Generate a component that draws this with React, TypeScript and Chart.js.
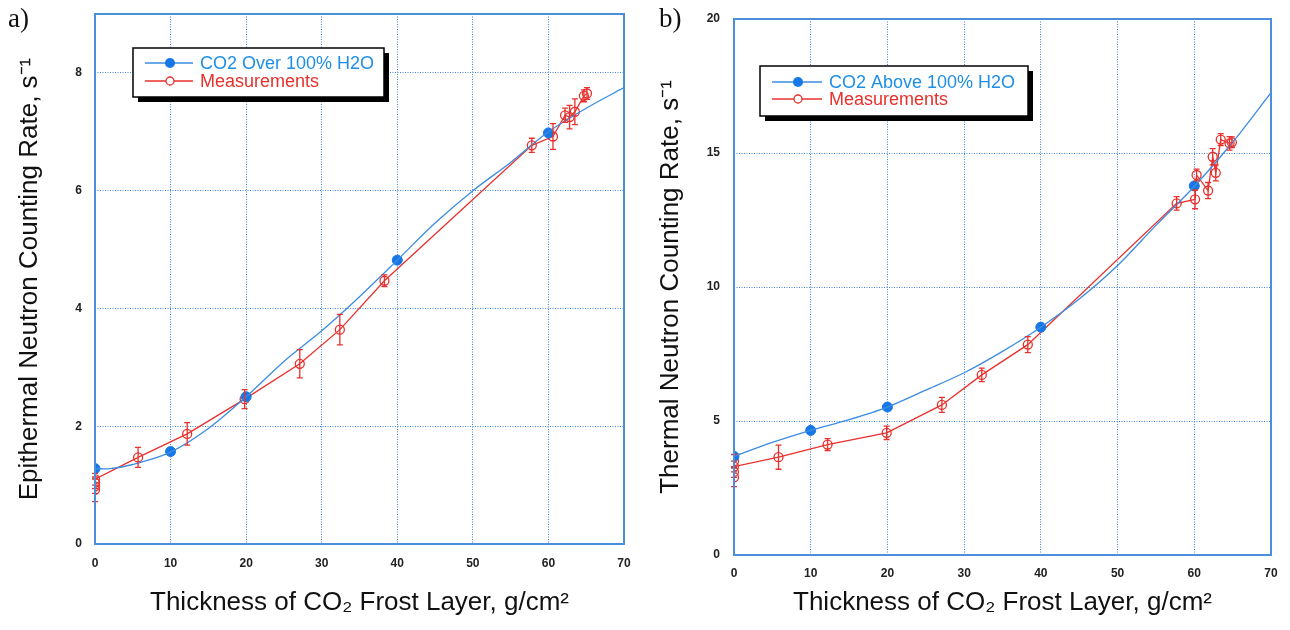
import React, { useEffect, useRef } from "react";
import { Chart, registerables } from "chart.js";
Chart.register(...registerables);

// ---------- shared ----------
const xTickValues = [0, 10, 20, 30, 40, 50, 60, 70];
const measLabel = "Measurements";
const xTitle = "Thickness of CO\u2082 Frost Layer, g/cm\u00B2";

// ---------- panel a (epithermal) ----------
const aYTickValues = [0, 2, 4, 6, 8];
const aSimLabel = "CO2 Over 100% H2O";
const aYTitle = "Epithermal Neutron Counting Rate, s\u207B\u00B9";
const aCurveX = [0, 2, 5, 10, 15, 20, 25, 30, 35, 40, 45, 50, 55, 60, 65, 70];
const aCurveY = [1.28, 1.28, 1.35, 1.56, 1.96, 2.5, 3.1, 3.62, 4.2, 4.82, 5.45, 6.0, 6.48, 7.0, 7.4, 7.75];
const aSimX = [0, 10, 20, 40, 60];
const aSimY = [1.28, 1.57, 2.5, 4.82, 6.98];
const aMeasX = [0, 0, 0, 0, 5.7, 12.2, 19.8, 27.1, 32.4, 38.3, 57.8, 60.6, 62.2, 62.8, 63.5, 64.7, 65.1];
const aMeasY = [0.92, 0.98, 1.04, 1.1, 1.47, 1.87, 2.46, 3.06, 3.64, 4.47, 6.77, 6.92, 7.28, 7.25, 7.34, 7.61, 7.65];
const aMeasErr = [0.2, 0.12, 0.1, 0.1, 0.17, 0.19, 0.16, 0.24, 0.26, 0.1, 0.12, 0.22, 0.12, 0.2, 0.22, 0.1, 0.1];

// ---------- panel b (thermal) ----------
const bYTickValues = [0, 5, 10, 15, 20];
const bSimLabel = "CO2 Above 100% H2O";
const bYTitle = "Thermal Neutron Counting Rate, s\u207B\u00B9";
const bCurveX = [0, 5, 10, 15, 20, 25, 30, 35, 40, 45, 50, 55, 60, 65, 70];
const bCurveY = [3.68, 4.2, 4.65, 5.05, 5.52, 6.15, 6.8, 7.6, 8.5, 9.55, 10.8, 12.3, 13.75, 15.4, 17.25];
const bSimX = [0, 10, 20, 40, 60];
const bSimY = [3.68, 4.65, 5.52, 8.5, 13.77];
const bMeasX = [0, 0, 0, 0, 5.8, 12.2, 19.9, 27.1, 32.3, 38.3, 57.7, 60.1, 60.3, 61.8, 62.4, 62.8, 63.45, 64.6, 64.9];
const bMeasY = [2.9, 3.1, 3.5, 3.3, 3.65, 4.12, 4.56, 5.6, 6.72, 7.85, 13.12, 13.27, 14.18, 13.6, 14.86, 14.26, 15.5, 15.36, 15.4];
const bMeasErr = [0.35, 0.2, 0.25, 0.2, 0.45, 0.22, 0.25, 0.28, 0.25, 0.3, 0.25, 0.35, 0.22, 0.3, 0.3, 0.3, 0.22, 0.25, 0.2];

const BLUE_LINE = "#3b8de0";
const BLUE_MARK = "#1677e6";
const BLUE_TEXT = "#1f8fe6";
const RED = "#e8302c";
const GRID = "#3f86d8";
const FRAME = "#4a8fdb";
const FONT = "'Liberation Sans', Arial, Helvetica, sans-serif";

const pts = (xs: number[], ys: number[]) => xs.map((x, i) => ({ x, y: ys[i] }));

const errorBarPlugin = {
  id: "errorBars",
  afterDatasetsDraw(chart: any) {
    const ctx = chart.ctx;
    const xs = chart.scales.x;
    const ys = chart.scales.y;
    chart.data.datasets.forEach((ds: any) => {
      if (!ds.errors) return;
      ctx.save();
      ctx.strokeStyle = ds.borderColor;
      ctx.lineWidth = 1.3;
      ds.data.forEach((p: any, i: number) => {
        const e = ds.errors[i];
        const px = xs.getPixelForValue(p.x);
        const y0 = ys.getPixelForValue(p.y - e);
        const y1 = ys.getPixelForValue(p.y + e);
        ctx.beginPath();
        ctx.moveTo(px, y0);
        ctx.lineTo(px, y1);
        ctx.moveTo(px - 3, y0);
        ctx.lineTo(px + 3, y0);
        ctx.moveTo(px - 3, y1);
        ctx.lineTo(px + 3, y1);
        ctx.stroke();
      });
      ctx.restore();
    });
  },
};

const framePlugin = {
  id: "frame",
  afterDraw(chart: any) {
    const { left, top, right, bottom } = chart.chartArea;
    const ctx = chart.ctx;
    ctx.save();
    ctx.strokeStyle = FRAME;
    ctx.lineWidth = 2;
    ctx.strokeRect(left, top, right - left, bottom - top);
    ctx.restore();
  },
};

const legendPlugin = {
  id: "boxLegend",
  afterDraw(chart: any, _args: any, opts: any) {
    const ctx = chart.ctx;
    const { x, y, w, h, rows, lineX0, lineX1, markX, textX, fontSize } = opts;
    ctx.save();
    ctx.fillStyle = "#000";
    ctx.fillRect(x + 5, y + 5, w, h);
    ctx.fillStyle = "#fff";
    ctx.fillRect(x, y, w, h);
    ctx.strokeStyle = "#000";
    ctx.lineWidth = 1.5;
    ctx.strokeRect(x, y, w, h);
    const items = [
      { ds: chart.data.datasets[1], line: BLUE_LINE, text: BLUE_TEXT, filled: true },
      { ds: chart.data.datasets[2], line: RED, text: RED, filled: false },
    ];
    items.forEach((it, i) => {
      const ry = rows[i];
      ctx.strokeStyle = it.line;
      ctx.lineWidth = 1.3;
      ctx.beginPath();
      ctx.moveTo(lineX0, ry);
      ctx.lineTo(lineX1, ry);
      ctx.stroke();
      ctx.beginPath();
      ctx.arc(markX, ry, it.filled ? 5 : 4, 0, Math.PI * 2);
      if (it.filled) {
        ctx.fillStyle = BLUE_MARK;
        ctx.fill();
      } else {
        ctx.fillStyle = "#fff";
        ctx.fill();
        ctx.strokeStyle = RED;
        ctx.stroke();
      }
      ctx.fillStyle = it.text;
      ctx.font = `${fontSize}px ${FONT}`;
      ctx.textBaseline = "middle";
      ctx.textAlign = "left";
      ctx.fillText(it.ds.label, textX, ry + 1);
    });
    ctx.restore();
  },
};

type PanelCfg = {
  tag: string;
  width: number;
  yWidth: number;
  xHeight: number;
  padRight: number;
  padTop: number;
  yMax: number;
  yTicks: number[];
  curveX: number[];
  curveY: number[];
  simX: number[];
  simY: number[];
  measX: number[];
  measY: number[];
  measErr: number[];
  simLabel: string;
  yTitle: string;
  yTitlePad: number;
  xTitlePad: number;
  yTickPad: number;
  xTickPad: number;
  legend: any;
};

function Panel({ cfg }: { cfg: PanelCfg }) {
  const ref = useRef<HTMLCanvasElement>(null);
  useEffect(() => {
    const chart = new Chart(ref.current as HTMLCanvasElement, {
      type: "scatter",
      data: {
        datasets: [
          {
            label: "curve",
            data: pts(cfg.curveX, cfg.curveY),
            showLine: true,
            borderColor: BLUE_LINE,
            borderWidth: 1.3,
            pointRadius: 0,
            tension: 0.3,
          } as any,
          {
            label: cfg.simLabel,
            data: pts(cfg.simX, cfg.simY),
            showLine: false,
            pointRadius: 5,
            pointBackgroundColor: BLUE_MARK,
            pointBorderColor: BLUE_MARK,
            borderColor: BLUE_MARK,
          },
          {
            label: measLabel,
            data: pts(cfg.measX, cfg.measY),
            showLine: true,
            borderColor: RED,
            borderWidth: 1.3,
            pointRadius: 4.5,
            pointBorderWidth: 1.3,
            pointBackgroundColor: "rgba(255,255,255,0)",
            pointBorderColor: RED,
            errors: cfg.measErr,
          } as any,
        ],
      },
      options: {
        animation: false,
        responsive: false,
        maintainAspectRatio: false,
        layout: { padding: { left: 0, right: cfg.padRight, top: cfg.padTop, bottom: 0 } },
        plugins: {
          legend: { display: false },
          tooltip: { enabled: false },
          boxLegend: cfg.legend,
        } as any,
        scales: {
          x: {
            type: "linear",
            min: 0,
            max: 70,
            afterBuildTicks: (s: any) => {
              s.ticks = xTickValues.map((v) => ({ value: v }));
            },
            afterFit: (s: any) => {
              s.height = cfg.xHeight;
              s.paddingLeft = 0;
              s.paddingRight = 0;
            },
            grid: { color: GRID, lineWidth: 1, drawTicks: false },
            border: { display: false, dash: [1, 1.5] },
            ticks: {
              padding: cfg.xTickPad,
              color: "#222",
              font: { family: FONT, size: 12, weight: "bold" },
              maxRotation: 0,
            },
            title: {
              display: true,
              text: xTitle,
              color: "#111",
              font: { family: FONT, size: 26 },
              padding: { top: 0, bottom: cfg.xTitlePad },
            },
          },
          y: {
            type: "linear",
            min: 0,
            max: cfg.yMax,
            afterBuildTicks: (s: any) => {
              s.ticks = cfg.yTicks.map((v) => ({ value: v }));
            },
            afterFit: (s: any) => {
              s.width = cfg.yWidth;
              s.paddingTop = 0;
              s.paddingBottom = 0;
            },
            grid: { color: GRID, lineWidth: 1, drawTicks: false },
            border: { display: false, dash: [1, 1.5] },
            ticks: {
              padding: cfg.yTickPad,
              color: "#222",
              font: { family: FONT, size: 12, weight: "bold" },
            },
            title: {
              display: true,
              text: cfg.yTitle,
              color: "#111",
              font: { family: FONT, size: 26 },
              padding: { top: cfg.yTitlePad, bottom: 0 },
            },
          },
        },
      } as any,
      plugins: [errorBarPlugin, framePlugin, legendPlugin],
    });
    return () => chart.destroy();
  }, []);
  return (
    <div style={{ position: "relative", width: cfg.width, height: 630 }}>
      <canvas ref={ref} width={cfg.width} height={630} style={{ width: cfg.width, height: 630 }} />
      <div
        style={{
          position: "absolute",
          left: cfg.tag === "a)" ? 8 : 9,
          top: 3,
          fontFamily: "'Liberation Serif', 'Times New Roman', serif",
          fontSize: 27,
          color: "#111",
        }}
      >
        {cfg.tag}
      </div>
    </div>
  );
}

const panelA: PanelCfg = {
  tag: "a)",
  width: 650,
  yWidth: 95,
  xHeight: 86,
  padRight: 26,
  padTop: 14,
  yMax: 9,
  yTicks: aYTickValues,
  curveX: aCurveX,
  curveY: aCurveY,
  simX: aSimX,
  simY: aSimY,
  measX: aMeasX,
  measY: aMeasY,
  measErr: aMeasErr,
  simLabel: aSimLabel,
  yTitle: aYTitle,
  yTitlePad: 14,
  xTitlePad: 12,
  yTickPad: 13,
  xTickPad: 12,
  legend: { x: 133, y: 48, w: 251, h: 49, rows: [63, 81], lineX0: 145, lineX1: 193, markX: 170, textX: 200, fontSize: 18 },
};

const panelB: PanelCfg = {
  tag: "b)",
  width: 640,
  yWidth: 84,
  xHeight: 75,
  padRight: 19,
  padTop: 19,
  yMax: 20,
  yTicks: bYTickValues,
  curveX: bCurveX,
  curveY: bCurveY,
  simX: bSimX,
  simY: bSimY,
  measX: bMeasX,
  measY: bMeasY,
  measErr: bMeasErr,
  simLabel: bSimLabel,
  yTitle: bYTitle,
  yTitlePad: 5,
  xTitlePad: 12,
  yTickPad: 14,
  xTickPad: 11,
  legend: { x: 110, y: 66, w: 268, h: 50, rows: [82, 99], lineX0: 122, lineX1: 172, markX: 148, textX: 179, fontSize: 18 },
};

export default function App() {
  return (
    <div style={{ position: "fixed", left: 0, top: 0, width: 1290, height: 630, display: "flex", background: "#fff" }}>
      <Panel cfg={panelA} />
      <Panel cfg={panelB} />
    </div>
  );
}
